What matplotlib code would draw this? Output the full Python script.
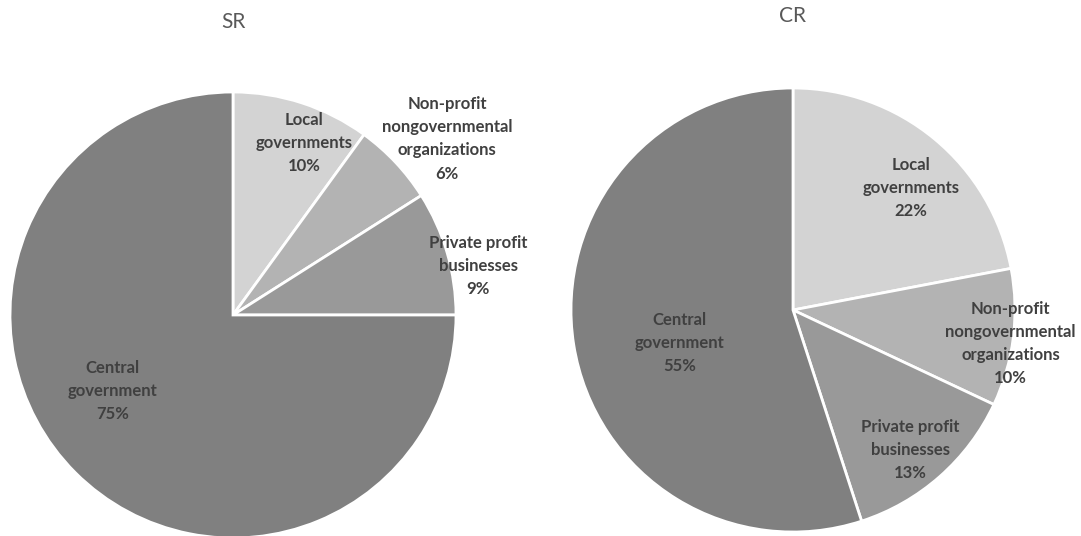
import matplotlib.pyplot as plt

# share of funding by source
categories = ['Local\ngovernments', 'Non-profit\nnongovernmental\norganizations',
              'Private profit\nbusinesses', 'Central\ngovernment']
sr_values = [10, 6, 9, 75]
cr_values = [22, 10, 13, 55]

colors = ['#d3d3d3', '#b3b3b3', '#999999', '#808080']

# label centres in units of the pie radius (hand placed like the original)
sr_label_pos = [(0.32, 0.77), (0.96, 0.79), (1.10, 0.22), (-0.54, -0.34)]
cr_label_pos = [(0.53, 0.55), (0.98, -0.15), (0.53, -0.63), (-0.51, -0.15)]

plt.rcParams['font.family'] = ['Lato', 'DejaVu Sans']

fig = plt.figure(figsize=(10.81, 5.36), dpi=100)


def draw_pie(rect, values, label_pos, title, title_y):
    ax = fig.add_axes(rect)
    ax.pie(values, colors=colors, startangle=90, counterclock=False, radius=1,
           wedgeprops=dict(edgecolor='white', linewidth=2))
    for name, v, (x, y) in zip(categories, values, label_pos):
        ax.text(x, y, f'{name}\n{v}%', ha='center', va='center', fontsize=12,
                fontweight='bold', color='#404040', linespacing=1.55)
    ax.set_xlim(-1, 1)
    ax.set_ylim(-1, 1)
    ax.set_aspect('equal')
    ax.axis('off')
    cx = rect[0] + rect[2] / 2
    fig.text(cx, title_y, title, ha='center', va='center', fontsize=15, color='#595959')


# SR: centre (233, 315) px, radius 223 px
draw_pie([10 / 1081, (536 - 315 - 223) / 536, 446 / 1081, 446 / 536], sr_values,
         sr_label_pos, 'SR', 1 - 22 / 536)
# CR: centre (793, 310) px, radius 222 px
draw_pie([571 / 1081, (536 - 310 - 222) / 536, 444 / 1081, 444 / 536], cr_values,
         cr_label_pos, 'CR', 1 - 16 / 536)

fig.savefig('out.png', dpi=100)
